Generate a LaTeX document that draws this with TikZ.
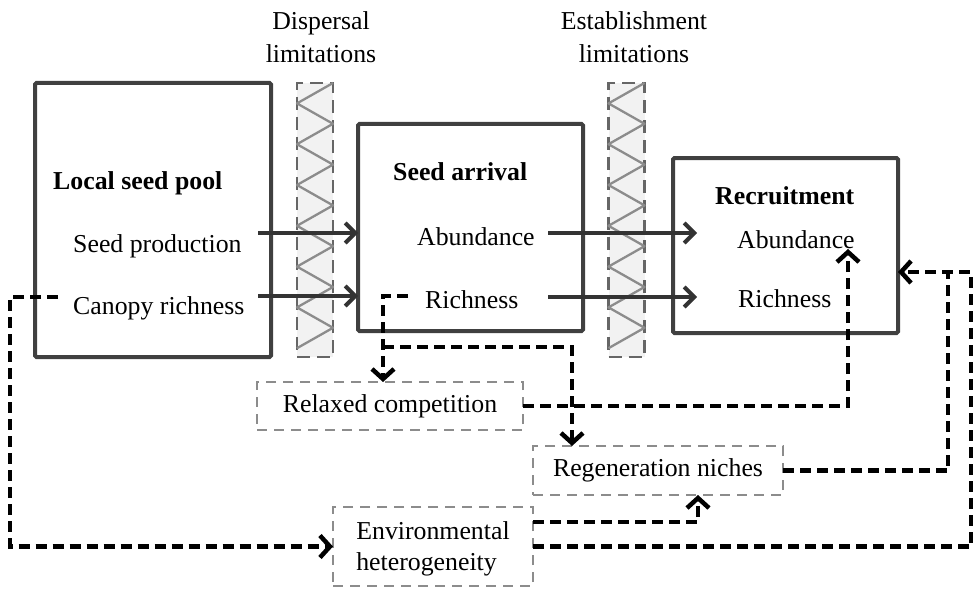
\documentclass[tikz,border=0pt]{standalone}
\usepackage{fontspec}
\setmainfont{Liberation Serif}
\usetikzlibrary{arrows.meta, positioning}

\begin{document}
\begin{tikzpicture}[x=1pt, y=-1pt, font=\fontsize{25.8}{32}\selectfont]
    % --- Styles ---
    \tikzstyle{mainbox}=[draw=black!75, line width=4pt, rounded corners=1.5pt, rectangle, inner sep=0pt, outer sep=0pt]
    \tikzstyle{factor}=[draw=black!45, line width=2.5pt, dash pattern=on 10pt off 7pt, rectangle, inner sep=0pt, outer sep=0pt]
    \tikzstyle{barrier}=[draw=black!60, fill=black!5, line width=2.8pt, dash pattern=on 13pt off 7pt, minimum width=36pt, minimum height=274pt, inner sep=0pt, outer sep=0pt]
    \tikzstyle{zig}=[draw=black!45, line width=2.3pt, line join=round]
    \tikzstyle{item}=[anchor=base west, inner sep=0pt]
    \tikzstyle{title}=[item, font=\fontsize{25.8}{32}\selectfont\bfseries]
    \tikzstyle{flow}=[line width=4pt, color=black!80, -{Straight Barb[length=10pt,width=20pt]}]
    \tikzstyle{link}=[line width=4.5pt, dash pattern=on 11pt off 6pt, -{Straight Barb[length=10pt,width=22pt]}]

    \useasboundingbox (0,0) rectangle (974,591);

    % --- 1. Stages ---
    \node[mainbox, minimum width=236pt, minimum height=274pt] (pool) at (153,220) {};
    \node[mainbox, minimum width=225pt, minimum height=207pt] (arrival) at (470.5,227.5) {};
    \node[mainbox, minimum width=225pt, minimum height=175pt] (recruit) at (785.5,245.5) {};

    \node[title] (pooltitle) at (53,189) {Local seed pool};
    \node[item] (sprod) at (73,252) {Seed production};
    \node[item] (crich) at (73,314) {Canopy richness};

    \node[title] (arrtitle) at (393,180) {Seed arrival};
    \node[item] (sabund) at (417,245) {Abundance};
    \node[item] (srich) at (425,308) {Richness};

    \node[title] (rectitle) at (715,204) {Recruitment};
    \node[item] (rabund) at (737,248) {Abundance};
    \node[item] (rrich) at (738,307) {Richness};

    % --- 2. Limitations ---
    \node[barrier] (dbar) at (315,220) {};
    \node[barrier] (ebar) at (626.5,220) {};
    \foreach \bar in {dbar, ebar}
        \draw[zig] (\bar.north east) \foreach \k in {1,...,6} { -- ++(-36,20.4) -- ++(36,20.4) } -- ++(-36,20.4);

    \node[align=center, anchor=base, font=\fontsize{25.8}{33}\selectfont] (dlab) at (321,63) {Dispersal\\limitations};
    \node[align=center, anchor=base, font=\fontsize{25.8}{33}\selectfont] (elab) at (634,63) {Establishment\\limitations};

    % --- 3. Mechanisms ---
    \node[factor, minimum width=266pt, minimum height=48pt] (relax) at (390,406) {Relaxed competition};
    \node[factor, minimum width=250pt, minimum height=49pt] (regen) at (658,470.5) {Regeneration niches};
    \node[factor, minimum width=200pt, minimum height=79pt, align=left, text depth=0pt,
          font=\fontsize{25.8}{31}\selectfont] (env) at (433,546.5) {Environmental\\heterogeneity};

    % --- 4. Flows ---
    \coordinate (sp-out) at (258,233);
    \coordinate (cr-out) at (258,296);
    \coordinate (sa-out) at (548,233);
    \coordinate (sr-out) at (548,297);
    \coordinate (ra-in) at (697,233);
    \coordinate (rr-in) at (697,297);
    \draw[flow] (sp-out) -- (sp-out -| arrival.west);
    \draw[flow] (cr-out) -- (cr-out -| arrival.west);
    \draw[flow] (sa-out) -- (ra-in);
    \draw[flow] (sr-out) -- (rr-in);

    % --- 5. Effects ---
    \coordinate (canopy) at (58,297);
    \coordinate (seedrich) at (408,296);
    \coordinate (split) at (383,347);
    \coordinate (abund-in) at (848,249);
    \coordinate (rc-in) at (recruit.east |- 0,272);

    \draw[link] (canopy) -- (10,297) |- (env.west);
    \draw[link] (seedrich) -- (383,296) -- (383,0 |- relax.north);
    \draw[link] (split) -| (572,0 |- regen.north);
    \draw[link] (relax.east) -| (abund-in);
    \draw[link, -] (regen.east) -| (948,272);
    \draw[link] (env.east |- 0,522) -| (698,0 |- regen.south);
    \draw[link] (env.east) -| (971,272) -- (rc-in);

\end{tikzpicture}
\end{document}
